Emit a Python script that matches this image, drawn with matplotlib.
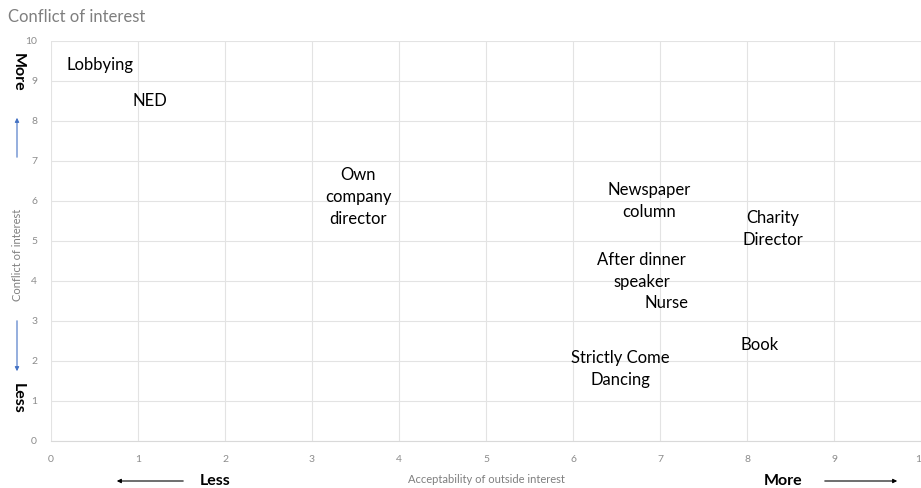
import matplotlib
matplotlib.use("Agg")
import matplotlib.pyplot as plt

plt.rcParams['font.family'] = ['Lato', 'DejaVu Sans']

labels = ["Lobbying", "NED", "Own\ncompany\ndirector", "Newspaper\ncolumn",
          "Charity\nDirector", "After dinner\nspeaker", "Nurse", "Book",
          "Strictly Come\nDancing"]
acceptability = [0.56, 1.14, 3.53, 6.88, 8.3, 6.79, 7.07, 8.15, 6.54]
conflict = [9.4, 8.5, 6.1, 6.0, 5.3, 4.25, 3.45, 2.4, 1.8]
x_ticks = list(range(0, 11))
y_ticks = list(range(0, 11))

fig = plt.figure(figsize=(9.21, 4.88), dpi=100)
ax = fig.add_axes([51/921, 1-441/488, 1-51/921, (441-41)/488])
ax.set_xlim(0, 10)
ax.set_ylim(0, 10)
ax.set_xticks(x_ticks)
ax.set_yticks(y_ticks)
ax.grid(True, color='#e3e3e3', linewidth=0.8)
ax.set_axisbelow(True)
for s in ['top', 'right', 'left']:
    ax.spines[s].set_visible(False)
ax.spines['bottom'].set_color('#d9d9d9')
ax.tick_params(length=0, colors='#8c8c8c', labelsize=7.5, pad=10)
ax.tick_params(axis='y', pad=10)

for lab, xv, yv in zip(labels, acceptability, conflict):
    ax.text(xv, yv, lab, ha='center', va='center', fontsize=12, color='#000000',
            linespacing=1.45)

ax.set_xlabel("Acceptability of outside interest", fontsize=8, color='#7f7f7f', labelpad=7)

fig.text(8/921, 1-17/488, "Conflict of interest", fontsize=12, color='#7f7f7f',
         ha='left', va='center')
fig.text(18/921, 1-255/488, "Conflict of interest", fontsize=8, color='#7f7f7f',
         rotation=90, ha='center', va='center')
fig.text(18/921, 1-72/488, "More", fontsize=11.5, fontweight='bold', rotation=-90,
         ha='center', va='center')
fig.text(18/921, 1-398/488, "Less", fontsize=11.5, fontweight='bold', rotation=-90,
         ha='center', va='center')
fig.text(215/921, 1-481/488, "Less", fontsize=11.5, fontweight='bold', ha='center', va='center')
fig.text(783/921, 1-481/488, "More", fontsize=11.5, fontweight='bold', ha='center', va='center')

arrow_blue = dict(arrowstyle='-|>', color='#4472c4', lw=0.8, mutation_scale=6)
arrow_black = dict(arrowstyle='-|>', color='#000000', lw=0.8, mutation_scale=6)
fig.add_artist(matplotlib.patches.FancyArrowPatch((17/921, 1-160/488), (17/921, 1-115/488),
               transform=fig.transFigure, **arrow_blue))
fig.add_artist(matplotlib.patches.FancyArrowPatch((17/921, 1-318/488), (17/921, 1-374/488),
               transform=fig.transFigure, **arrow_blue))
fig.add_artist(matplotlib.patches.FancyArrowPatch((186/921, 1-481/488), (114/921, 1-481/488),
               transform=fig.transFigure, **arrow_black))
fig.add_artist(matplotlib.patches.FancyArrowPatch((822/921, 1-481/488), (900/921, 1-481/488),
               transform=fig.transFigure, **arrow_black))

fig.savefig("out.png", dpi=100)
